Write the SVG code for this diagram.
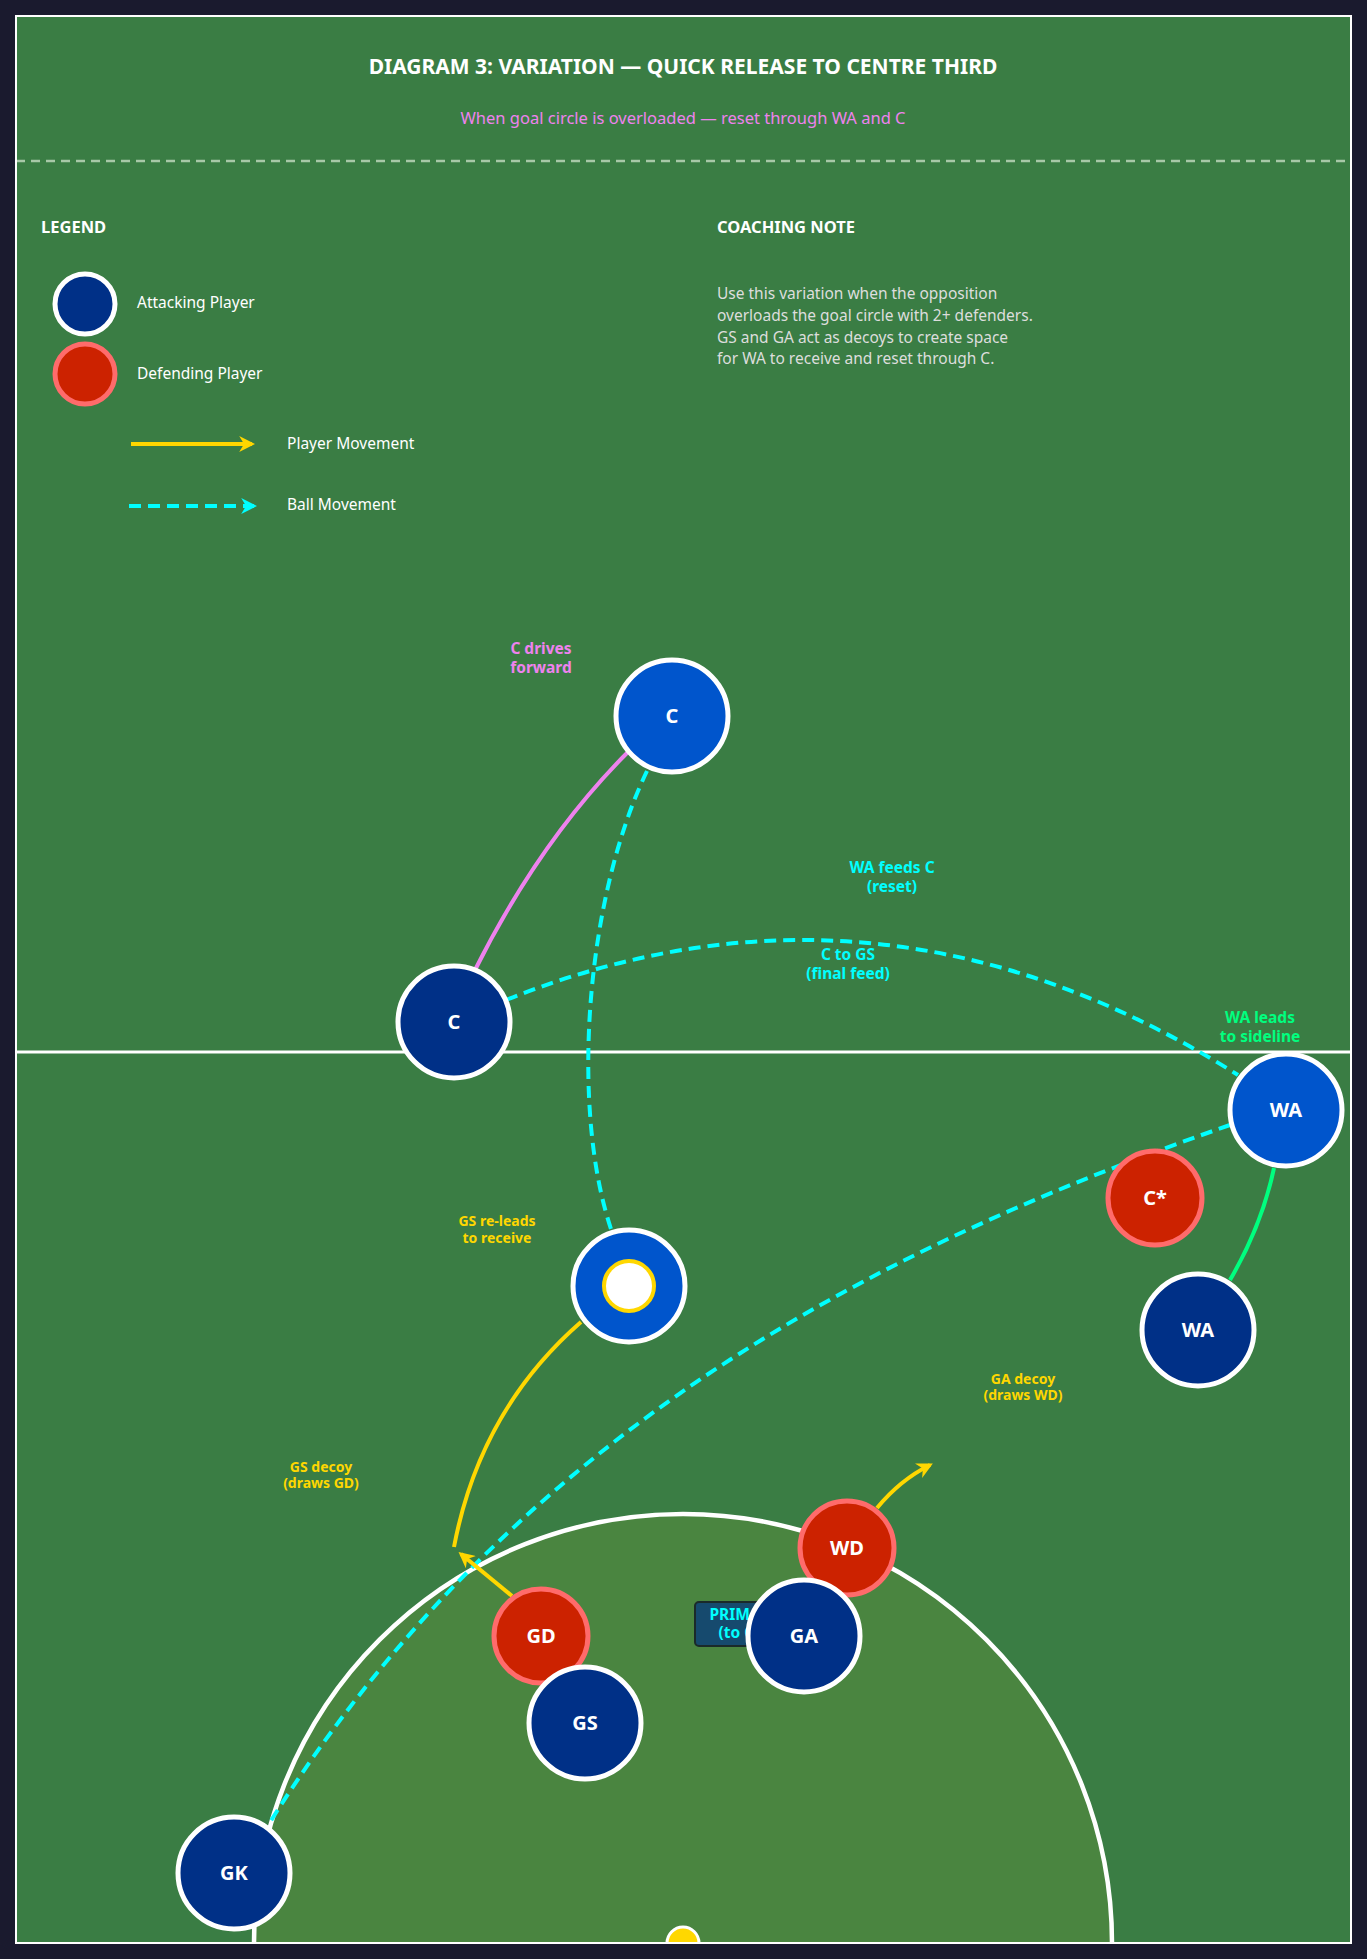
<svg xmlns="http://www.w3.org/2000/svg" width="1367" height="1959" viewBox="0 0 1367 1959">
<defs>
<marker id="ay" viewBox="0 0 10 10" refX="8" refY="5" markerWidth="4" markerHeight="4" orient="auto"><path d="M0,0 L10,5 L0,10 L3,5 z" fill="#ffd700"/></marker>
<marker id="ac" viewBox="0 0 10 10" refX="8" refY="5" markerWidth="4" markerHeight="4" orient="auto"><path d="M0,0 L10,5 L0,10 L3,5 z" fill="#00ffff"/></marker>
<clipPath id="fld"><rect x="16" y="16" width="1335" height="1927"/></clipPath>
</defs>
<style>
text{font-family:"Noto Sans","DejaVu Sans",sans-serif}
.att{fill:#003087;stroke:#fff;stroke-width:5}
.att2{fill:#0055cc;stroke:#fff;stroke-width:5}
.def{fill:#cc2200;stroke:#ff6b6b;stroke-width:5}
.nl{fill:#fff;font-weight:bold;font-size:20px;text-anchor:middle}
.ball{fill:none;stroke:#00ffff;stroke-width:4;stroke-dasharray:12 7}
.mv{fill:none;stroke:#ffd700;stroke-width:4}
.lb{font-weight:bold;font-size:15.5px;text-anchor:middle}
.sm{font-weight:bold;font-size:14px;text-anchor:middle;fill:#ffd700}
.lg{fill:#fff;font-size:15.5px}
</style>
<rect width="1367" height="1959" fill="#1a1a2e"/>
<rect x="16" y="16" width="1335" height="1927" fill="#3a7d44"/>
<text x="683" y="74" text-anchor="middle" fill="#fff" font-weight="bold" font-size="21">DIAGRAM 3: VARIATION — QUICK RELEASE TO CENTRE THIRD</text>
<text x="683" y="124" text-anchor="middle" fill="#ee82ee" font-size="16.5">When goal circle is overloaded — reset through WA and C</text>
<line x1="16" y1="161" x2="1351" y2="161" stroke="#a8c8a8" stroke-width="2.5" stroke-dasharray="9 6"/>
<g id="legend">
<text x="41" y="233" fill="#fff" font-weight="bold" font-size="16.5">LEGEND</text>
<circle cx="85" cy="304" r="30" class="att"/>
<text x="137" y="308" class="lg">Attacking Player</text>
<circle cx="85" cy="374" r="30" class="def"/>
<text x="137" y="379" class="lg">Defending Player</text>
<line x1="131" y1="444" x2="252" y2="444" stroke="#ffd700" stroke-width="4" marker-end="url(#ay)"/>
<text x="287" y="449" class="lg">Player Movement</text>
<line x1="129" y1="506" x2="254" y2="506" class="ball" marker-end="url(#ac)"/>
<text x="287" y="510" class="lg">Ball Movement</text>
</g>
<g id="note">
<text x="717" y="233" fill="#fff" font-weight="bold" font-size="16.5">COACHING NOTE</text>
<text fill="#dddddd" font-size="15.5"><tspan x="717" y="299">Use this variation when the opposition</tspan><tspan x="717" y="321">overloads the goal circle with 2+ defenders.</tspan><tspan x="717" y="343">GS and GA act as decoys to create space</tspan><tspan x="717" y="364">for WA to receive and reset through C.</tspan></text>
</g>
<line x1="16" y1="1052" x2="1351" y2="1052" stroke="#fff" stroke-width="3"/>
<g clip-path="url(#fld)">
<circle cx="683" cy="1943" r="429" fill="#4a8540" stroke="#fff" stroke-width="4.5"/>
<circle cx="683" cy="1943" r="16" fill="#ffd700" stroke="#fff" stroke-width="3"/>
</g>
<rect x="16" y="16" width="1335" height="1927" fill="none" stroke="#fff" stroke-width="2"/>
<g id="connectors">
<path d="M475,970 Q540,840 628,752" fill="none" stroke="#ee82ee" stroke-width="4"/>
<path d="M647,771 C585,900 570,1110 612,1232" class="ball"/>
<path d="M506,1000 Q880,850 1238,1075" class="ball"/>
<path d="M1230,1125 C900,1240 520,1420 267,1827" class="ball"/>
<path d="M1230,1280 Q1262,1225 1274,1168" fill="none" stroke="#00ff7f" stroke-width="4"/>
<path d="M581,1322 Q480,1410 454,1547" class="mv"/>
<path d="M512,1596 L461,1554" class="mv" marker-end="url(#ay)"/>
<path d="M877,1508 Q900,1480 930,1465" class="mv" marker-end="url(#ay)"/>
</g>
<g id="labels">
<text class="lb" fill="#ee82ee"><tspan x="541" y="654">C drives</tspan><tspan x="541" y="673">forward</tspan></text>
<text class="lb" fill="#00ffff"><tspan x="892" y="873">WA feeds C</tspan><tspan x="892" y="892">(reset)</tspan></text>
<text class="lb" fill="#00ffff"><tspan x="848" y="960">C to GS</tspan><tspan x="848" y="979">(final feed)</tspan></text>
<text class="lb" fill="#00ff7f"><tspan x="1260" y="1023">WA leads</tspan><tspan x="1260" y="1042">to sideline</tspan></text>
<text class="sm"><tspan x="497" y="1226">GS re-leads</tspan><tspan x="497" y="1243">to receive</tspan></text>
<text class="sm"><tspan x="1023" y="1384">GA decoy</tspan><tspan x="1023" y="1400">(draws WD)</tspan></text>
<text class="sm"><tspan x="321" y="1472">GS decoy</tspan><tspan x="321" y="1488">(draws GD)</tspan></text>
<rect x="695" y="1602" width="80" height="44" rx="4" fill="#164a6e" stroke="#1a2a2a" stroke-width="2"/>
<text class="lb" fill="#00ffff"><tspan x="745" y="1620">PRIMARY</tspan><tspan x="745" y="1638">(to GA)</tspan></text>
</g>
<g id="C1"><circle cx="672" cy="716" r="56" class="att2"/><text x="672" y="723" class="nl">C</text></g>
<g id="C2"><circle cx="454" cy="1022" r="56" class="att"/><text x="454" y="1029" class="nl">C</text></g>
<g id="WA1"><circle cx="1286" cy="1110" r="56" class="att2"/><text x="1286" y="1117" class="nl">WA</text></g>
<g id="Cstar"><circle cx="1155" cy="1198" r="47" class="def"/><text x="1155" y="1205" class="nl" font-size="18">C*</text></g>
<g id="WA2"><circle cx="1198" cy="1330" r="56" class="att"/><text x="1198" y="1337" class="nl">WA</text></g>
<g id="GS1"><circle cx="629" cy="1286" r="56" class="att2"/><circle cx="629" cy="1286" r="25" fill="#fff" stroke="#ffd700" stroke-width="4"/></g>
<g id="WD"><circle cx="847" cy="1548" r="47" class="def"/><text x="847" y="1555" class="nl" font-size="18">WD</text></g>
<g id="GA"><circle cx="804" cy="1636" r="56" class="att"/><text x="804" y="1643" class="nl">GA</text></g>
<g id="GD"><circle cx="541" cy="1636" r="47" class="def"/><text x="541" y="1643" class="nl" font-size="18">GD</text></g>
<g id="GS"><circle cx="585" cy="1723" r="56" class="att"/><text x="585" y="1730" class="nl">GS</text></g>
<g id="GK"><circle cx="234" cy="1873" r="56" class="att"/><text x="234" y="1880" class="nl">GK</text></g>
</svg>
